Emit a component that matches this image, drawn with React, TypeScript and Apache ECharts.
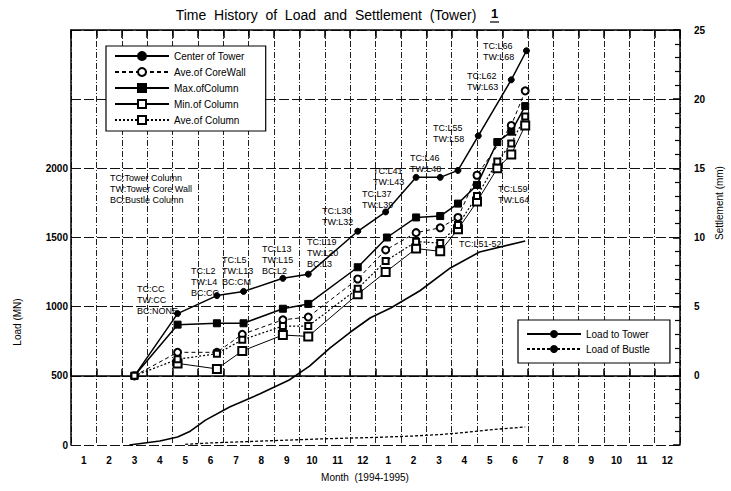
import React, { useEffect, useRef } from "react";
import * as echarts from "echarts";

const monthLabels = ["1","2","3","4","5","6","7","8","9","10","11","12","1","2","3","4","5","6","7","8","9","10","11","12"];

// settlement series: [month position, settlement mm]
const centerOfTower = [[2.5,0],[4.2,4.5],[5.75,5.8],[6.8,6.1],[8.35,7.05],[9.35,7.35],[11.3,10.45],[12.4,11.85],[13.6,14.35],[14.55,14.35],[15.25,14.85],[16.05,17.35],[17.35,21.4],[17.95,23.5]];
const aveCoreWall = [[2.5,0],[4.2,1.7],[5.75,1.7],[6.75,3.0],[8.35,4.05],[9.35,4.25],[11.3,7.0],[12.4,9.1],[13.6,10.35],[14.55,10.7],[15.25,11.45],[16.0,14.5],[17.35,18.1],[17.9,20.6]];
const maxOfColumn = [[2.5,0],[4.2,3.7],[5.75,3.8],[6.8,3.8],[8.35,4.85],[9.35,5.2],[11.3,7.85],[12.45,10.0],[13.6,11.45],[14.55,11.55],[15.25,12.45],[16.0,13.8],[16.8,16.9],[17.35,17.65],[17.9,19.5]];
const minOfColumn = [[4.2,0.9],[5.75,0.5],[6.75,1.8],[8.35,2.95],[9.35,2.85],[11.3,5.9],[12.4,7.5],[13.6,9.2],[14.55,9.0],[15.25,10.6],[16.0,12.6],[16.8,15.0],[17.35,16.0],[17.9,18.1]];
const aveOfColumn = [[2.5,0],[4.2,1.2],[5.75,1.6],[6.75,2.6],[8.35,3.6],[9.35,3.6],[11.3,6.3],[12.4,8.3],[13.6,9.7],[14.55,9.6],[15.25,10.9],[16.0,13.0],[16.8,15.5],[17.35,16.8],[17.9,18.75]];

// load series: [month position, load MN]
const loadToTower = [[2.3,0],[3.5,29],[4.2,58],[4.7,100],[5.3,180],[6.25,275],[7.45,370],[8.6,470],[9.4,570],[10.2,700],[11.0,815],[11.8,920],[12.6,990],[13.75,1115],[14.95,1280],[16.1,1395],[17.9,1475]];
const loadOfBustle = [[4.5,5],[5.5,15],[7,25],[8.5,35],[10,45],[12,55],[13.5,65],[14.5,75],[15.5,90],[16.5,110],[17.9,130]];

const notes = [
  { t: "TC:Tower Column\nTW:Tower Core Wall\nBC:Bustle Column", x: 110, y: 172 },
  { t: "TC:CC\nTW:CC\nBC:NONE", x: 137, y: 283 },
  { t: "TC:L2\nTW:L4\nBC:CC", x: 191, y: 265 },
  { t: "TC:L5\nTW:L13\nBC:CM", x: 222, y: 254 },
  { t: "TC:L13\nTW:L15\nBC:L2", x: 262, y: 243 },
  { t: "TC:L19\nTW:L20\nBC:L3", x: 307, y: 236 },
  { t: "TC:L30\nTW:L32", x: 322, y: 205 },
  { t: "TC:L37\nTW:L39", x: 362, y: 188 },
  { t: "TC:L41\nTW:L43", x: 373, y: 165 },
  { t: "TC:L46\nTW:L48", x: 410, y: 152 },
  { t: "TC:L55\nTW:L58", x: 433, y: 122 },
  { t: "TC:L62\nTW:L63", x: 467, y: 70 },
  { t: "TC:L66\nTW:L68", x: 483, y: 40 },
  { t: "TC:L59\nTW:L64", x: 498, y: 183 },
  { t: "TC:L51-52", x: 459, y: 238 },
];

const FONT = "Liberation Sans, Arial, sans-serif";

export default function App() {
  const ref = useRef<HTMLDivElement>(null);
  useEffect(() => {
    const chart = echarts.init(ref.current!, null, { renderer: "svg" });
    const dashDot = [6, 2, 1, 2];
    const settle = (name: string, data: number[][], symbol: string, size: number, type: any, width: number) => ({
      name, type: "line", data, xAxisIndex: 0, yAxisIndex: 1, symbol, symbolSize: size,
      lineStyle: { color: "#000", width, type },
      itemStyle: { color: "#000", borderColor: "#000", borderWidth: 1 },
      z: 3,
    });
    const tickFont = { fontSize: 10, color: "#000", fontWeight: "bold" as const, fontFamily: FONT };
    chart.setOption({
      animation: false,
      backgroundColor: "#fff",
      textStyle: { fontFamily: FONT },
      grid: { left: 71, right: 51, top: 30, bottom: 46 },
      legend: [
        {
          data: ["Center of Tower", "Ave.of CoreWall", "Max.ofColumn", "Min.of Column", "Ave.of Column"],
          orient: "vertical", left: 106, top: 46, itemWidth: 54, itemHeight: 10, itemGap: 6,
          padding: [5, 20, 6, 8], borderColor: "#000", borderWidth: 1.2, backgroundColor: "#fff",
          textStyle: { fontSize: 10, color: "#000", fontFamily: FONT }, z: 10,
        },
        {
          data: ["Load to Tower", "Load of Bustle"],
          orient: "vertical", left: 518, top: 320, itemWidth: 54, itemHeight: 10, itemGap: 5,
          padding: [9, 20, 9, 8], borderColor: "#000", borderWidth: 1.2, backgroundColor: "#fff",
          textStyle: { fontSize: 10, color: "#000", fontFamily: FONT }, z: 10,
        },
      ],
      xAxis: [
        { type: "value", min: 0, max: 24, show: false },
        {
          type: "category", data: monthLabels, position: "bottom", boundaryGap: true,
          axisLine: { show: true, lineStyle: { color: "#000", width: 1.5 } },
          axisTick: { show: true, inside: true, length: 7, interval: 0, lineStyle: { color: "#000", width: 1.5 } },
          axisLabel: { ...tickFont, margin: 10, interval: 0 },
          splitLine: { show: true, interval: 0, lineStyle: { color: "#222", width: 1, type: dashDot } },
        },
        {
          type: "category", data: monthLabels, position: "top", boundaryGap: true,
          axisLine: { show: true, lineStyle: { color: "#000", width: 1.5 } },
          axisTick: { show: true, inside: true, length: 8, interval: 0, lineStyle: { color: "#000", width: 1.5 } },
          axisLabel: { show: false },
        },
      ],
      yAxis: [
        {
          type: "value", min: 0, max: 3000, interval: 500, position: "left",
          axisLine: { show: true, lineStyle: { color: "#000", width: 1.5 } },
          axisTick: { show: false },
          axisLabel: { ...tickFont, margin: 3, formatter: (v: number) => (v <= 2000 ? String(v) : "") },
          splitLine: { show: true, lineStyle: { color: "#111", width: 1, type: [10, 3] } },
        },
        {
          type: "value", min: -5, max: 25, interval: 5, position: "right",
          axisLine: { show: true, lineStyle: { color: "#000", width: 1.5 } },
          axisTick: { show: true, inside: true, length: 7, lineStyle: { color: "#000", width: 1.5 } },
          minorTick: { show: true, splitNumber: 5, length: 5, lineStyle: { color: "#000", width: 1.2 } },
          axisLabel: { ...tickFont, margin: 14, formatter: (v: number) => (v >= 0 ? String(v) : "") },
          splitLine: { show: false },
        },
      ],
      series: [
        settle("Center of Tower", centerOfTower, "circle", 6, "solid", 1.5),
        settle("Ave.of CoreWall", aveCoreWall, "emptyCircle", 7, [4, 3], 1),
        settle("Max.ofColumn", maxOfColumn, "rect", 7, "solid", 1.5),
        settle("Min.of Column", minOfColumn, "emptyRect", 8, "solid", 1),
        settle("Ave.of Column", aveOfColumn, "emptyRect", 6, [2, 2], 1.2),
        {
          name: "Load to Tower", type: "line", data: loadToTower, xAxisIndex: 0, yAxisIndex: 0,
          symbol: "none", lineStyle: { color: "#000", width: 1.6 }, itemStyle: { color: "#000" },
        },
        {
          name: "Load of Bustle", type: "line", data: loadOfBustle, xAxisIndex: 0, yAxisIndex: 0,
          symbol: "none", lineStyle: { color: "#000", width: 1.3, type: [3, 2] }, itemStyle: { color: "#000" },
        },
      ],
      graphic: [
        { type: "text", x: 326, y: 8, style: { text: "Time  History  of  Load  and  Settlement  (Tower)", font: `14px ${FONT}`, fill: "#000", textAlign: "center" } },
        { type: "text", x: 491, y: 7, style: { text: "1", font: `bold 13px ${FONT}`, fill: "#000" } },
        { type: "line", shape: { x1: 490, y1: 22, x2: 499, y2: 22 }, style: { stroke: "#000", lineWidth: 1.2 } },
        { type: "text", x: 365, y: 472, style: { text: "Month  (1994-1995)", font: `10px ${FONT}`, fill: "#000", textAlign: "center" } },
        { type: "text", x: 17, y: 322, rotation: Math.PI / 2, style: { text: "Load (MN)", font: `10px ${FONT}`, fill: "#000", textAlign: "center", textVerticalAlign: "middle" } },
        { type: "text", x: 719, y: 203, rotation: Math.PI / 2, style: { text: "Settlement (mm)", font: `10px ${FONT}`, fill: "#000", textAlign: "center", textVerticalAlign: "middle" } },
        ...notes.map((n) => ({
          type: "text", x: n.x, y: n.y, z: 20,
          style: { text: n.t, font: `9px ${FONT}`, fill: "#000", lineHeight: 11 },
        })),
      ],
    });
    return () => chart.dispose();
  }, []);
  return <div ref={ref} style={{ position: "fixed", left: 0, top: 0, width: 731, height: 491 }} />;
}
